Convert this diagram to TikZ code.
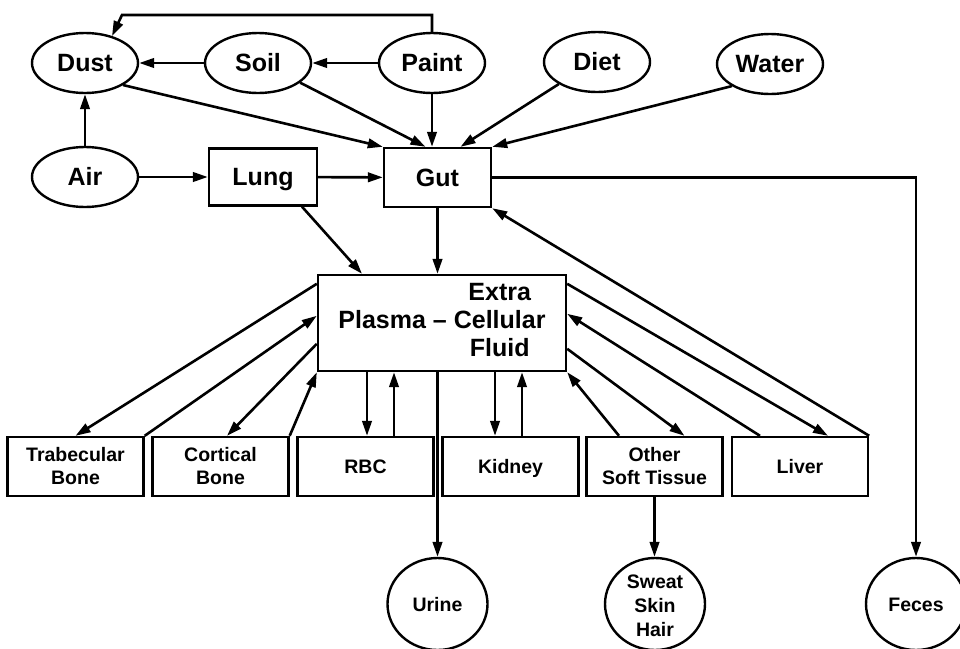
\documentclass[tikz,border=0pt]{standalone}
\usepackage{fontspec}
\setmainfont{Liberation Sans}
\usetikzlibrary{arrows.meta,shapes.geometric}
\begin{document}
\begin{tikzpicture}[x=1pt,y=-1pt,
  line width=2.6pt,
  arr/.style={-{Triangle[length=15pt,width=9.5pt]}},
  bigfont/.style={font=\fontsize{25}{28}\selectfont\bfseries},
  smallfont/.style={font=\fontsize{19.5}{23}\selectfont\bfseries},
  capcentre/.style={text height=#1, text depth=0pt},
  oval/.style={ellipse, draw, line width=2.4pt, minimum width=106pt, minimum height=60pt, inner sep=0pt, bigfont, capcentre=17.9pt},
  box/.style={rectangle, draw, line width=2.4pt, inner sep=0pt, align=center},
  organ/.style={box, minimum width=136pt, minimum height=59pt, smallfont},
  sink/.style={ellipse, draw, line width=2.4pt, minimum width=100pt, minimum height=92pt, inner sep=0pt, align=center, font=\fontsize{19.5}{24}\selectfont\bfseries}]
\clip (0,0) rectangle (960,648);

% sources
\node[oval] (dust)  at (85,63)  {Dust};
\node[oval] (soil)  at (258,63) {Soil};
\node[oval] (paint) at (432,63) {Paint};
\node[oval] (diet)  at (597,62) {Diet};
\node[oval] (water) at (770,64) {Water};
\node[oval] (air)   at (85,177) {Air};

% uptake compartments
\node[box, bigfont, capcentre=17.9pt, minimum width=108pt, minimum height=57pt] (lung) at (263,177) {Lung};
\node[box, bigfont, capcentre=17.9pt, minimum width=107pt, minimum height=59pt] (gut)  at (437.5,177.5) {Gut};

% central compartment
\node[box, bigfont, minimum width=248pt, minimum height=96pt] (ecf) at (442,323)
  {\begin{tabular}{@{}r@{\hspace{0.28em}}c@{}}
     & Extra\\
     Plasma -- & Cellular\\
     & Fluid
   \end{tabular}};

% tissue compartments
\node[organ] (trab)  at (75.5,466.5)  {Trabecular\\Bone};
\node[organ] (cort)  at (220.5,466.5) {Cortical\\Bone};
\node[organ, capcentre=14pt] (rbc)   at (365.5,466.5) {RBC};
\node[organ, capcentre=14pt] (kid)   at (510.5,466.5) {Kidney};
\node[organ] (ost)   at (654.5,466.5) {Other\\Soft Tissue};
\node[organ, capcentre=14pt] (liver) at (800,466.5)   {Liver};

% excretion
\node[sink, capcentre=14pt] (urine) at (437.5,604) {Urine};
\node[sink] (sweat) at (655,604) {};
\node[align=center, inner sep=0pt, font=\fontsize{19.5}{24}\selectfont\bfseries]
  (sweattext) at ([yshift=-2pt]sweat.center) {Sweat\\Skin\\Hair};
\node[sink, capcentre=14pt] (feces) at (916,604)   {Feces};

% environmental pathways
\coordinate (ptop) at (122,15);
\draw[arr] (paint.north) |- (ptop) -- (dust.45);
\draw[arr] (soil) -- (dust);
\draw[arr] (paint) -- (soil);
\draw[arr] (air) -- (dust);
\draw[arr] (dust.-30) -- (gut.north west);
\draw[arr] (soil.-25) -- ([xshift=-12pt]gut.north);
\draw[arr] (paint.south) -- (paint.south |- gut.north);
\draw[arr] (diet.-150) -- ([xshift=23pt]gut.north);
\draw[arr] (water.-150) -- (gut.north east);
\draw[arr] (air) -- (lung);
\draw[arr] (lung) -- (gut);

% absorption
\draw[arr] ([xshift=39pt]lung.south) -- ([xshift=-80pt]ecf.north);
\draw[arr] (gut.south) -- (gut.south |- ecf.north);
\draw[arr] (gut.east) -| (feces.north);

% exchange with tissues
\draw[arr] ([yshift=-10pt]ecf.north west) -- (trab.north);
\draw[arr] (trab.north east) -- ([yshift=-42pt]ecf.north west);
\draw[arr] ([yshift=-70pt]ecf.north west) -- ([xshift=6.5pt]cort.north);
\draw[arr] (cort.north east) -- (ecf.south west);
\draw[arr] ([xshift=1.5pt]rbc.north |- ecf.south) -- ([xshift=1.5pt]rbc.north);
\draw[arr] ([xshift=28.5pt]rbc.north) -- ([xshift=28.5pt]rbc.north |- ecf.south);
\draw[arr] ([xshift=-15.5pt]kid.north |- ecf.south) -- ([xshift=-15.5pt]kid.north);
\draw[arr] ([xshift=11.5pt]kid.north) -- ([xshift=11.5pt]kid.north |- ecf.south);
\draw[arr] ([yshift=-75pt]ecf.north east) -- ([xshift=30pt]ost.north);
\draw[arr] ([xshift=-35.5pt]ost.north) -- (ecf.south east);
\draw[arr] ([yshift=-10pt]ecf.north east) -- ([xshift=28pt]liver.north);
\draw[arr] ([xshift=-40pt]liver.north) -- ([yshift=-40pt]ecf.north east);
\draw[arr] (liver.north east) -- (gut.south east);

% elimination
\draw[arr] (urine.north |- ecf.south) -- (urine.north);
\draw[arr] (ost.south) -- (ost.south |- sweat.north);
\end{tikzpicture}
\end{document}
